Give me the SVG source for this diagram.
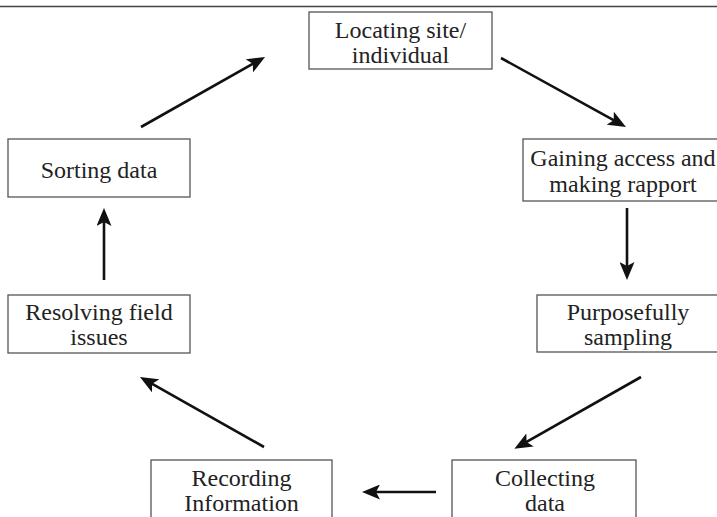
<svg xmlns="http://www.w3.org/2000/svg" width="717" height="517" viewBox="0 0 717 517">
  <style>
    .box { fill: #ffffff; stroke: #555555; stroke-width: 1.3; }
    .lbl { font-family: "Liberation Serif", "Times New Roman", serif; font-size: 24px; fill: #222222; text-anchor: middle; }
    .arr { stroke: #111111; stroke-width: 2.6; fill: none; marker-end: url(#head); }
  </style>
  <defs>
    <marker id="head" viewBox="0 0 18 15" refX="9" refY="7.5" markerWidth="18" markerHeight="15" markerUnits="userSpaceOnUse" orient="auto">
      <path d="M0,0 L18,7.5 L0,15 L4,7.5 Z" fill="#111111"/>
    </marker>
  </defs>
  <rect width="717" height="517" fill="#ffffff"/>
  <line x1="0" y1="6.5" x2="717" y2="6.5" stroke="#444444" stroke-width="1.5"/>

  <g id="locating">
    <rect class="box" x="309" y="12" width="183" height="57"/>
    <text class="lbl" x="400.5" y="38">Locating site/</text>
    <text class="lbl" x="400.5" y="63">individual</text>
  </g>
  <g id="gaining">
    <rect class="box" x="523" y="139" width="200" height="62"/>
    <text class="lbl" x="623" y="166">Gaining access and</text>
    <text class="lbl" x="623" y="192">making rapport</text>
  </g>
  <g id="purposefully">
    <rect class="box" x="537" y="295" width="182" height="57"/>
    <text class="lbl" x="628" y="320">Purposefully</text>
    <text class="lbl" x="628" y="345">sampling</text>
  </g>
  <g id="collecting">
    <rect class="box" x="452" y="460" width="184" height="70"/>
    <text class="lbl" x="545" y="486">Collecting</text>
    <text class="lbl" x="545" y="511">data</text>
  </g>
  <g id="recording">
    <rect class="box" x="151" y="460" width="181" height="70"/>
    <text class="lbl" x="241.5" y="486">Recording</text>
    <text class="lbl" x="241.5" y="511">Information</text>
  </g>
  <g id="resolving">
    <rect class="box" x="8" y="295" width="182" height="58"/>
    <text class="lbl" x="99" y="320">Resolving field</text>
    <text class="lbl" x="99" y="345">issues</text>
  </g>
  <g id="sorting">
    <rect class="box" x="8" y="139" width="182" height="58"/>
    <text class="lbl" x="99" y="178">Sorting data</text>
  </g>

  <g id="connectors">
    <line class="arr" x1="141" y1="127" x2="257.2" y2="61.4"/>
    <line class="arr" x1="501" y1="58" x2="618.1" y2="122.6"/>
    <line class="arr" x1="627" y1="208" x2="627" y2="271"/>
    <line class="arr" x1="641" y1="377" x2="522.2" y2="444.4"/>
    <line class="arr" x1="436" y1="492" x2="371" y2="492"/>
    <line class="arr" x1="264" y1="447" x2="147.8" y2="381.4"/>
    <line class="arr" x1="104" y1="280" x2="104" y2="217"/>
  </g>
</svg>
